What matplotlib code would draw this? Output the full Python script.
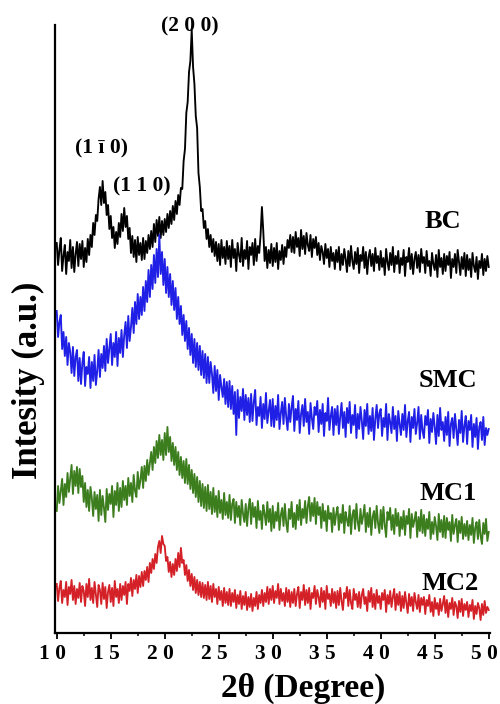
"""XRD patterns of BC, SMC, MC1 and MC2, stacked with vertical offsets."""

import matplotlib

matplotlib.use("Agg")
import matplotlib.pyplot as plt
from matplotlib.ticker import MultipleLocator
from matplotlib.transforms import ScaledTranslation
import numpy as np

# 2-theta scan grid (deg)
THETA = np.arange(10.0, 50.0 + 1e-9, 0.125)

# Offset intensities (a.u.), one row = 2 degrees
BC = [
    390, 368, 383, 395, 362, 377, 388, 359, 381, 372, 393, 365, 386, 361, 379, 391,
    367, 389, 374, 392, 366, 385, 371, 394, 378, 398, 386, 410, 398, 418, 412, 434,
    446, 428, 452, 430, 441, 418, 428, 404, 417, 395, 406, 385, 401, 389, 410, 396,
    419, 402, 425, 406, 417, 394, 405, 380, 397, 376, 393, 371, 396, 378, 390, 373,
    395, 374, 392, 380, 398, 384, 402, 386, 409, 391, 413, 397, 416, 395, 412, 398,
    414, 401, 419, 405, 422, 409, 427, 413, 432, 419, 438, 428, 445, 444, 472, 484,
    520, 531, 561, 572, 603, 566, 549, 517, 505, 460, 446, 422, 424, 405, 412, 394,
    404, 386, 398, 381, 394, 377, 391, 372, 389, 368, 393, 375, 386, 369, 392, 374,
    387, 366, 393, 375, 384, 362, 390, 378, 371, 395, 367, 383, 374, 392, 364, 386,
    378, 390, 368, 394, 372, 387, 380, 398, 426, 402, 372, 386, 365, 383, 370, 389,
    367, 385, 371, 390, 364, 382, 373, 388, 369, 386, 376, 393, 385, 398, 381, 396,
    380, 401, 386, 395, 377, 403, 384, 397, 379, 400, 388, 382, 398, 376, 394, 385,
    396, 378, 390, 373, 387, 381, 369, 389, 375, 384, 366, 386, 372, 380, 364, 383,
    371, 386, 363, 379, 368, 384, 374, 361, 382, 367, 387, 372, 364, 381, 369, 385,
    360, 378, 372, 386, 365, 381, 359, 376, 383, 367, 379, 362, 385, 370, 377, 363,
    382, 366, 375, 358, 384, 371, 363, 380, 368, 386, 361, 377, 369, 382, 360, 375,
    368, 383, 357, 376, 371, 385, 364, 379, 359, 374, 381, 365, 378, 361, 384, 370,
    376, 360, 382, 367, 372, 357, 380, 369, 363, 378, 356, 383, 366, 375, 359, 379,
    362, 377, 368, 381, 355, 374, 366, 379, 360, 383, 371, 358, 376, 364, 380, 357,
    378, 363, 374, 356, 380, 367, 361, 376, 354, 372, 365, 379, 358, 374, 362, 377,
    366,
]
SMC = [
    322, 296, 311, 318, 284, 301, 277, 296, 268, 290, 281, 260, 286, 257, 276, 283,
    252, 275, 249, 270, 281, 247, 266, 259, 276, 245, 271, 252, 278, 248, 262, 283,
    256, 279, 265, 287, 262, 294, 270, 284, 299, 268, 290, 276, 301, 267, 295, 280,
    303, 276, 298, 311, 285, 317, 292, 306, 325, 300, 331, 309, 339, 314, 336, 318,
    346, 322, 352, 331, 363, 336, 368, 344, 378, 350, 384, 356, 398, 359, 381, 348,
    374, 340, 366, 336, 359, 328, 352, 323, 345, 314, 336, 309, 327, 298, 318, 292,
    312, 284, 305, 278, 299, 270, 294, 266, 290, 263, 287, 258, 282, 255, 279, 250,
    276, 250, 271, 259, 240, 267, 242, 263, 233, 258, 246, 236, 254, 229, 251, 226,
    252, 224, 247, 219, 241, 198, 243, 215, 236, 222, 244, 213, 238, 218, 235, 211,
    239, 212, 231, 243, 208, 226, 217, 236, 205, 229, 214, 240, 210, 222, 233, 207,
    234, 206, 227, 213, 238, 204, 220, 231, 209, 235, 216, 203, 229, 211, 226, 237,
    202, 224, 213, 232, 200, 219, 228, 207, 234, 211, 221, 199, 230, 215, 204, 226,
    218, 232, 201, 223, 209, 229, 197, 220, 212, 235, 203, 217, 226, 198, 224, 208,
    227, 199, 216, 230, 205, 221, 196, 225, 210, 231, 200, 218, 208, 228, 195, 219,
    204, 226, 212, 194, 223, 207, 229, 199, 217, 202, 225, 193, 214, 228, 205, 220,
    224, 197, 215, 206, 229, 193, 219, 211, 200, 226, 204, 217, 192, 222, 209, 198,
    219, 203, 228, 196, 212, 221, 191, 216, 205, 224, 199, 210, 226, 194, 218, 202,
    195, 217, 208, 223, 190, 214, 201, 220, 206, 189, 218, 197, 225, 203, 211, 192,
    216, 198, 221, 187, 209, 215, 195, 219, 204, 188, 213, 200, 222, 191, 207, 217,
    189, 212, 203, 218, 186, 209, 196, 215, 184, 206, 211, 193, 216, 188, 205, 198,
    204,
]
MC1 = [
    122, 147, 130, 142, 154, 128, 149, 136, 160, 141, 155, 168, 139, 162, 147, 166,
    140, 164, 146, 157, 131, 150, 126, 143, 122, 146, 135, 117, 141, 124, 138, 112,
    143, 118, 137, 125, 111, 144, 123, 139, 129, 147, 116, 142, 128, 150, 122, 145,
    126, 152, 133, 147, 128, 155, 137, 150, 131, 158, 142, 136, 161, 144, 153, 166,
    145, 167, 152, 173, 158, 170, 181, 163, 186, 170, 192, 175, 198, 178, 193, 173,
    200, 178, 206, 181, 196, 172, 190, 168, 186, 163, 181, 158, 176, 155, 172, 150,
    174, 149, 168, 144, 163, 140, 159, 136, 156, 131, 152, 127, 149, 125, 146, 122,
    148, 124, 141, 119, 145, 121, 137, 116, 142, 120, 133, 114, 140, 118, 131, 115,
    138, 113, 129, 134, 110, 131, 116, 127, 108, 133, 119, 111, 129, 107, 125, 134,
    109, 130, 116, 126, 105, 132, 113, 122, 104, 128, 119, 108, 131, 111, 124, 102,
    127, 105, 121, 112, 130, 103, 118, 125, 107, 129, 110, 101, 124, 114, 131, 106,
    120, 104, 128, 113, 133, 108, 124, 115, 132, 110, 127, 136, 112, 130, 117, 135,
    109, 131, 118, 126, 105, 129, 112, 122, 102, 127, 114, 120, 101, 125, 108, 119,
    126, 103, 119, 110, 128, 100, 121, 113, 107, 127, 99, 118, 123, 104, 129, 111,
    102, 124, 109, 117, 128, 101, 120, 106, 125, 98, 116, 122, 105, 127, 110, 100,
    123, 104, 126, 108, 96, 121, 113, 125, 103, 118, 99, 124, 107, 120, 97, 116,
    104, 122, 98, 117, 109, 124, 95, 119, 106, 113, 121, 96, 116, 102, 123, 100,
    118, 97, 114, 104, 121, 94, 111, 99, 116, 107, 93, 119, 101, 113, 96, 117,
    95, 115, 103, 111, 92, 118, 99, 108, 114, 91, 112, 100, 116, 94, 109, 97,
    112, 93, 108, 98, 115, 90, 105, 111, 94, 113, 97, 89, 110, 99, 114, 92,
    101,
]
MC2 = [
    49, 32, 45, 52, 30, 43, 36, 51, 28, 46, 39, 53, 33, 47, 29, 44,
    35, 50, 31, 47, 42, 27, 49, 36, 54, 33, 45, 30, 51, 38, 26, 48,
    43, 29, 50, 34, 46, 25, 41, 48, 31, 45, 27, 52, 36, 44, 30, 49,
    33, 47, 38, 51, 29, 49, 42, 55, 37, 53, 44, 58, 40, 57, 46, 61,
    47, 62, 53, 66, 51, 70, 60, 74, 64, 79, 70, 86, 92, 80, 97, 89,
    87, 72, 76, 61, 71, 56, 69, 58, 74, 62, 80, 66, 85, 70, 73, 58,
    68, 52, 63, 47, 59, 43, 56, 40, 53, 38, 51, 36, 50, 35, 48, 33,
    51, 34, 47, 31, 49, 36, 44, 29, 46, 33, 42, 27, 45, 30, 41, 28,
    44, 27, 40, 31, 43, 25, 38, 29, 42, 24, 37, 28, 41, 23, 36, 26,
    39, 22, 35, 27, 41, 24, 38, 30, 43, 27, 40, 31, 46, 29, 44, 33,
    47, 30, 42, 35, 49, 29, 44, 32, 40, 27, 45, 31, 43, 26, 41, 30,
    44, 27, 39, 46, 25, 41, 33, 48, 28, 43, 30, 45, 24, 40, 35, 47,
    29, 43, 36, 26, 45, 31, 42, 24, 47, 34, 39, 27, 44, 30, 41, 25,
    42, 28, 45, 32, 23, 40, 35, 46, 27, 43, 30, 24, 44, 33, 39, 26,
    41, 25, 38, 44, 29, 36, 22, 42, 31, 45, 26, 39, 24, 43, 30, 37,
    24, 40, 33, 43, 21, 38, 29, 42, 26, 36, 44, 23, 39, 28, 41, 22,
    37, 25, 41, 30, 20, 39, 27, 36, 22, 40, 31, 24, 38, 21, 35, 28,
    36, 19, 33, 27, 38, 21, 31, 17, 35, 24, 30, 18, 34, 22, 29, 37,
    20, 33, 16, 30, 24, 35, 18, 31, 27, 15, 32, 21, 34, 17, 29, 23,
    31, 16, 28, 22, 33, 14, 27, 19, 30, 25, 13, 29, 18, 32, 20, 26,
    23,
]

SAMPLES = ["BC", "SMC", "MC1", "MC2"]
CURVES = {"BC": BC, "SMC": SMC, "MC1": MC1, "MC2": MC2}
COLORS = {"BC": "#000000", "SMC": "#1f1fe6", "MC1": "#3c7d1e", "MC2": "#d42127"}
TICKS = [10, 15, 20, 25, 30, 35, 40, 45, 50]
TICK_LABELS = ["1 0", "1 5", "2 0", "2 5", "3 0", "3 5", "4 0", "4 5", "5 0"]
PEAK_LABELS = ["(2 0 0)", "(1 ī 0)", "(1 1 0)"]

plt.rcParams.update(
    {
        "font.family": ["Liberation Serif", "DejaVu Serif"],
        "font.weight": "bold",
    }
)


def render(path="out.png"):
    fig = plt.figure(figsize=(5.0, 7.04), dpi=100)
    ax = fig.add_axes([0.11, 0.1009, 0.87, 0.8636])

    for name in SAMPLES:
        y = np.asarray(CURVES[name], dtype=float)
        assert len(y) == len(THETA), (name, len(y))
        ax.plot(THETA, y, color=COLORS[name], linewidth=1.35)

    ax.set_xlim(9.84, 50.12)
    ax.set_ylim(0, 608)
    for side in ("top", "right"):
        ax.spines[side].set_visible(False)
    for side in ("left", "bottom"):
        ax.spines[side].set_linewidth(1.6)

    ax.set_yticks([])
    ax.set_xticks(TICKS)
    ax.set_xticklabels(TICK_LABELS)
    ax.xaxis.set_minor_locator(MultipleLocator(2.5))
    ax.tick_params(axis="x", which="major", direction="out", length=4, width=1.3,
                   labelsize=15.5, pad=4)
    ax.tick_params(axis="x", which="minor", direction="out", length=2.5, width=1.1)
    # labels in the original sit a few pixels left of their ticks
    nudge = ScaledTranslation(-4 / 100, 0, fig.dpi_scale_trans)
    for lab in ax.get_xticklabels():
        lab.set_transform(lab.get_transform() + nudge)

    # sample names, right of the curves
    for name, (x, y) in zip(SAMPLES, [(45.8, 405), (46.2, 246), (46.2, 133), (46.4, 43)]):
        ax.text(x, y, name, ha="center", va="baseline", fontsize=19, fontweight="bold")

    # Miller indices of the cellulose I reflections
    for label, (x, y) in zip(PEAK_LABELS, [(22.34, 602), (14.1, 480), (17.9, 442)]):
        ax.text(x, y, label, ha="center", va="baseline", fontsize=15.5,
                fontweight="bold", clip_on=False)

    fig.text(0.606, 0.0099, "2θ (Degree)", ha="center", va="baseline",
             fontsize=24, fontweight="bold")
    fig.text(0.056, 0.4602, "Intesity (a.u.)", ha="center", va="center",
             rotation=90, fontsize=25, fontweight="bold")

    fig.savefig(path, dpi=100)
    plt.close(fig)


if __name__ == "__main__":
    render()
